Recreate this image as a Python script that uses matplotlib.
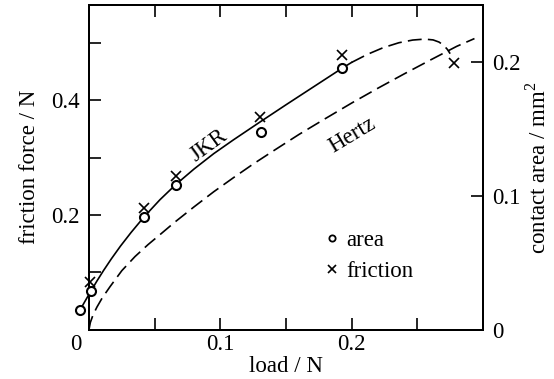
import numpy as np
import matplotlib
matplotlib.use('Agg')
import matplotlib.pyplot as plt
from matplotlib.lines import Line2D
from matplotlib.transforms import ScaledTranslation

plt.rcParams['font.family'] = ['Liberation Serif', 'DejaVu Serif']
plt.rcParams['mathtext.fontset'] = 'custom'
plt.rcParams['mathtext.rm'] = 'Liberation Serif'
plt.rcParams['lines.scale_dashes'] = False

# ---------------- data ----------------
# measured contact area (right axis, mm^2)
area_load = np.array([-0.0068, 0.0013, 0.042, 0.066, 0.1306, 0.1929])
area_vals = np.array([0.0146, 0.0288, 0.0839, 0.1080, 0.1474, 0.1953])

# measured friction force (left axis, N)
fric_load = np.array([0.001, 0.042, 0.066, 0.130, 0.1929, 0.2778])
fric_vals = np.array([0.0834, 0.2115, 0.2679, 0.3703, 0.4791, 0.4646])

# JKR curve (contact area)
jkr_load = np.array([-0.0068, -0.003, 0.0015, 0.006, 0.011, 0.017, 0.024,
                     0.032, 0.042, 0.054, 0.066, 0.080, 0.095, 0.110, 0.130,
                     0.150, 0.170, 0.193, 0.200, 0.212, 0.224, 0.236, 0.2465,
                     0.2555, 0.262, 0.2665, 0.2700, 0.2728, 0.2750])
jkr_area = np.array([0.0146, 0.0212, 0.0288, 0.0362, 0.0440, 0.0528, 0.0624,
                     0.0725, 0.0843, 0.0970, 0.1083, 0.1200, 0.1315, 0.1418,
                     0.1550, 0.1680, 0.1808, 0.1955, 0.1997, 0.2057, 0.2107,
                     0.2144, 0.2164, 0.2171, 0.2165, 0.2149, 0.2125, 0.2095,
                     0.2062])

# Hertz curve (contact area)
hertz_load = np.array([0.0, 0.001, 0.003, 0.006, 0.010, 0.016, 0.025, 0.035,
                       0.045, 0.055, 0.065, 0.080, 0.095, 0.110, 0.125, 0.140,
                       0.160, 0.180, 0.200, 0.220, 0.240, 0.260, 0.280, 0.2935])
hertz_area = np.array([0.0, 0.0052, 0.0107, 0.0167, 0.0235, 0.0320, 0.0440,
                       0.0545, 0.0635, 0.0717, 0.0800, 0.0917, 0.1030, 0.1135,
                       0.1237, 0.1333, 0.1459, 0.1577, 0.1693, 0.1804, 0.1911,
                       0.2015, 0.2117, 0.2175])

x_ticks = [0, 0.1, 0.2]
x_ticklabels = ['0', '0.1', '0.2']
yl_ticks = [0.2, 0.4]
yl_ticklabels = ['0.2', '0.4']
yr_ticks = [0, 0.1, 0.2]
yr_ticklabels = ['0', '0.1', '0.2']

# ---------------- figure ----------------
fs = 16.5
W, H = 554, 379
fig = plt.figure(figsize=(W / 100, H / 100), dpi=100)
ax1 = fig.add_axes([89 / W, 1 - 329.5 / H, 394 / W, 324.5 / H])
ax2 = ax1.twinx()

lw = 1.2
dash = (10, 4.5)

solid = jkr_load <= 0.2
dashed = jkr_load >= 0.2
ax2.plot(jkr_load[solid], jkr_area[solid], color='k', lw=lw, clip_on=False,
         solid_joinstyle='round', zorder=2)
ax2.plot(jkr_load[dashed], jkr_area[dashed], color='k', lw=lw, dashes=dash, zorder=2)
ax2.plot(hertz_load, hertz_area, color='k', lw=lw, dashes=dash, zorder=2)

ax2.plot(area_load, area_vals, ls='none', marker='o', ms=6.5, mfc='white', mec='k',
         mew=1.5, clip_on=False, zorder=3)
ax1.plot(fric_load, fric_vals, ls='none', marker='x', ms=7.5, color='k', mew=1.2,
         clip_on=False, zorder=3)

ax1.set_xlim(0, 0.3)
ax1.set_ylim(0, 0.566)
ax2.set_ylim(0, 0.2426)

tick_kw = dict(direction='in', length=8.6, width=1.2, labelsize=fs)
ax1.set_xticks(x_ticks)
ax1.set_xticklabels(x_ticklabels)
ax1.set_xticks([0.05, 0.15, 0.25], minor=True)
ax1.set_yticks(yl_ticks)
ax1.set_yticklabels(yl_ticklabels)
ax1.set_yticks([0.1, 0.3, 0.5], minor=True)
ax1.tick_params(axis='x', which='both', top=True, labeltop=False, pad=3, **tick_kw)
ax1.tick_params(axis='y', which='both', left=True, right=False, pad=6.5, **tick_kw)

ax2.set_yticks(yr_ticks)
ax2.set_yticklabels(yr_ticklabels)
ax2.tick_params(axis='y', which='both', right=True, pad=6.5, **tick_kw)

for ax in (ax1, ax2):
    for sp in ax.spines.values():
        sp.set_linewidth(1.4)

# shift the "0" label on the load axis slightly left as in the original
lab0 = ax1.xaxis.get_major_ticks()[0].label1
lab0.set_transform(lab0.get_transform() + ScaledTranslation(-13 / 100, 0, fig.dpi_scale_trans))

ax1.set_xlabel('load / N', fontsize=fs, labelpad=1)
ax1.set_ylabel('friction force / N', fontsize=fs, labelpad=8)
ax2.set_ylabel('contact area / mm$^2$', fontsize=fs, labelpad=4)

ax2.text(0.0913, 0.1372, 'JKR', rotation=36, ha='center', va='center', fontsize=fs)
ax2.text(0.2008, 0.1454, 'Hertz', rotation=31, ha='center', va='center', fontsize=fs)

handles = [Line2D([], [], ls='none', marker='o', ms=4.5, mfc='none', mec='k', mew=1.3),
           Line2D([], [], ls='none', marker='x', ms=5.5, color='k', mew=1.2)]
ax1.legend(handles, ['area', 'friction'], loc='upper left',
           bbox_to_anchor=(326 / W, 1 - 230 / H), bbox_transform=fig.transFigure,
           frameon=False, fontsize=fs, handlelength=0.5, handletextpad=0.4,
           labelspacing=0.45, borderpad=0, borderaxespad=0)

fig.savefig('out.png', dpi=100)
